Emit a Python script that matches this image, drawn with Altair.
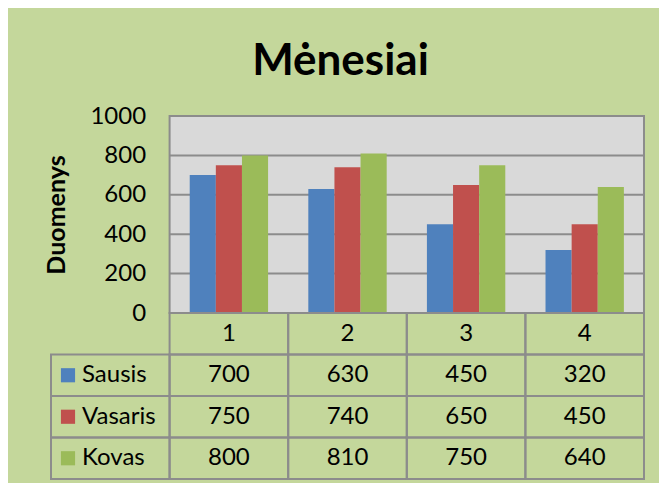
import altair as alt
import pandas as pd

# ---- data -------------------------------------------------------------
CATEGORIES = ["1", "2", "3", "4"]
SERIES = ["Sausis", "Vasaris", "Kovas"]
SAUSIS = [700, 630, 450, 320]
VASARIS = [750, 740, 650, 450]
KOVAS = [800, 810, 750, 640]
Y_TICKS = [0, 200, 400, 600, 800, 1000]
TITLE = "Mėnesiai"
Y_TITLE = "Duomenys"

# ---- style ------------------------------------------------------------
FONT = "Lato"
COLORS = ["#4F81BD", "#C0504D", "#9BBB59"]
BG = "#C4D79B"
PLOT_BG = "#D9D9D9"
GRID = "#8C8C8C"

W, H, PLOT_H = 593, 363, 197
LEGEND_COL = "Serija"
HEADER_ROW = "Kategorija"
COLS = [LEGEND_COL] + CATEGORIES
ROWS = [HEADER_ROW] + SERIES

values = {"Sausis": SAUSIS, "Vasaris": VASARIS, "Kovas": KOVAS}
bars_df = pd.DataFrame(
    [{"cat": c, "series": s, "value": values[s][i]}
     for s in SERIES for i, c in enumerate(CATEGORIES)]
)
grid_df = pd.DataFrame({"tick": Y_TICKS[1:-1], "start": CATEGORIES[0]})
bg_df = pd.DataFrame({"start": [CATEGORIES[0]], "lo": [Y_TICKS[0]], "hi": [Y_TICKS[-1]]})

cells = [{"col": c, "row": HEADER_ROW} for c in CATEGORIES]
cells += [{"col": c, "row": s} for s in SERIES for c in COLS]
cells_df = pd.DataFrame(cells)

texts = [{"col": c, "row": HEADER_ROW, "text": c} for c in CATEGORIES]
texts += [{"col": c, "row": s, "text": str(values[s][i])}
          for s in SERIES for i, c in enumerate(CATEGORIES)]
texts_df = pd.DataFrame(texts)
legend_df = pd.DataFrame({"col": LEGEND_COL, "row": SERIES, "series": SERIES})

# ---- scales -----------------------------------------------------------
x_scale = alt.Scale(type="band", domain=COLS, range=[0, W], paddingInner=0, paddingOuter=0)
y_scale = alt.Scale(domain=[Y_TICKS[0], Y_TICKS[-1]], range=[PLOT_H, 0], nice=False)
y_tab = alt.Scale(type="band", domain=ROWS, range=[PLOT_H, H], paddingInner=0, paddingOuter=0)
color_scale = alt.Scale(domain=SERIES, range=COLORS)

y_axis = alt.Axis(
    values=Y_TICKS, format="d", grid=False, ticks=False, domain=False,
    offset=-(W / len(COLS)), labelPadding=24,
    labelFont=FONT, labelFontSize=24, labelColor="black",
    title=Y_TITLE, titleFont=FONT, titleFontSize=25, titleFontWeight="bold",
    titleColor="black", titleX=-113, titleY=PLOT_H / 2,
    titleBaseline="middle", titleAlign="center", titleAngle=270,
)

bg = alt.Chart(bg_df).mark_rect(fill=PLOT_BG, stroke=GRID, strokeWidth=2).encode(
    x=alt.X("start:N", scale=x_scale, axis=None, bandPosition=0),
    x2=alt.value("width"),
    y=alt.Y("lo:Q", scale=y_scale, axis=y_axis),
    y2="hi:Q",
)
grid = alt.Chart(grid_df).mark_rule(color=GRID, strokeWidth=2).encode(
    x=alt.X("start:N", scale=x_scale, axis=None, bandPosition=0),
    x2=alt.value("width"),
    y=alt.Y("tick:Q", scale=y_scale, axis=y_axis),
)
bars = alt.Chart(bars_df).mark_bar().encode(
    x=alt.X("cat:N", scale=x_scale, axis=None),
    xOffset=alt.XOffset("series:N", scale=alt.Scale(domain=SERIES, paddingInner=0, paddingOuter=0.77)),
    y=alt.Y("value:Q", scale=y_scale, axis=y_axis),
    color=alt.Color("series:N", scale=color_scale, legend=None),
)
plot = alt.layer(bg, grid, bars)

cell_rects = alt.Chart(cells_df).mark_rect(fillOpacity=0, stroke=GRID, strokeWidth=2).encode(
    x=alt.X("col:N", scale=x_scale, axis=None),
    y=alt.Y("row:N", scale=y_tab, axis=None),
)
cell_text = alt.Chart(texts_df).mark_text(font=FONT, fontSize=24, color="black", baseline="middle").encode(
    x=alt.X("col:N", scale=x_scale, axis=None),
    y=alt.Y("row:N", scale=y_tab, axis=None),
    text="text:N",
)
swatch = alt.Chart(legend_df).mark_square(size=200, opacity=1, xOffset=17).encode(
    x=alt.X("col:N", scale=x_scale, axis=None, bandPosition=0),
    y=alt.Y("row:N", scale=y_tab, axis=None),
    color=alt.Color("series:N", scale=color_scale, legend=None),
)
legend_text = alt.Chart(legend_df).mark_text(font=FONT, fontSize=24, color="black", align="left",
                                              baseline="middle", dx=31).encode(
    x=alt.X("col:N", scale=x_scale, axis=None, bandPosition=0),
    y=alt.Y("row:N", scale=y_tab, axis=None),
    text="series:N",
)
table = alt.layer(cell_rects, cell_text, swatch, legend_text)

chart = alt.layer(plot, table).resolve_scale(y="independent").properties(
    width=W, height=H,
    autosize=alt.AutoSizeParams(type="none"),
    padding={"left": 43, "top": 108, "right": 15, "bottom": 4},
    background=BG,
    title=alt.TitleParams(TITLE, font=FONT, fontSize=44, fontWeight="bold", color="black",
                          anchor="middle", frame="group", dx=-7, offset=20),
).configure_view(stroke=None)

chart.save("out.html", embed_options={"renderer": "svg", "actions": False})
